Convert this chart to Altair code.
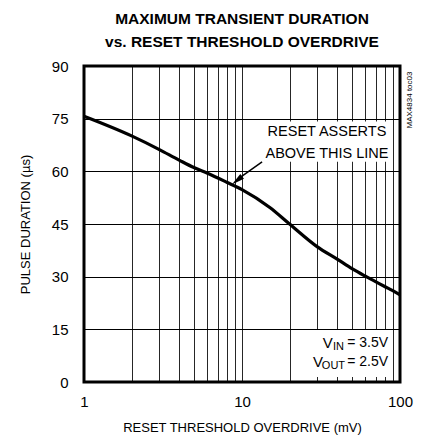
import altair as alt
import pandas as pd

# ---- data ----
overdrive_mv = [1, 2, 3, 4, 5, 6, 8, 10, 15, 20, 30, 40, 50, 60, 70, 80, 90, 100]
pulse_us = [75.7, 70.1, 66.2, 63.2, 61.0, 59.5, 56.9, 54.8, 49.7, 45.0, 38.5, 35.0, 32.2, 30.2, 28.6, 27.2, 26.0, 24.8]

x_grid = [1, 2, 3, 4, 5, 6, 7, 8, 9, 10, 20, 30, 40, 50, 60, 70, 80, 90, 100]
y_ticks = [0, 15, 30, 45, 60, 75, 90]

FONT = "Liberation Sans"

df = pd.DataFrame({"x": overdrive_mv, "y": pulse_us})

xscale = alt.Scale(type="log", domain=[1, 100], nice=False)
yscale = alt.Scale(domain=[0, 90], nice=False)

base = alt.Chart(df)

curve = base.mark_line(color="black", strokeWidth=3.2, interpolate="monotone").encode(
    x=alt.X("x:Q", scale=xscale,
            axis=alt.Axis(values=x_grid, title="RESET THRESHOLD OVERDRIVE (mV)",
                          labelExpr="(datum.value==1||datum.value==10||datum.value==100) ? datum.label : ''",
                          grid=True, gridColor="black", gridWidth=1, gridOpacity=0.85,
                          ticks=False, domain=False, labelPadding=12, titlePadding=12,
                          labelFontSize=15, titleFontSize=13, labelFont=FONT, titleFont=FONT,
                          labelColor="black", titleColor="black", titleFontWeight="normal",
                          labelFlush=False)),
    y=alt.Y("y:Q", scale=yscale,
            axis=alt.Axis(values=y_ticks, title="PULSE DURATION (µs)",
                          grid=True, gridColor="black", gridWidth=1,
                          ticks=False, domain=False, labelPadding=16, titlePadding=19,
                          labelFontSize=15, titleFontSize=13, labelFont=FONT, titleFont=FONT,
                          labelColor="black", titleColor="black", titleFontWeight="normal")),
)

# white box behind "RESET ASSERTS" text
box1 = alt.Chart(pd.DataFrame({"a": [0]})).mark_rect(color="white").encode(
    x=alt.datum(13.8, scale=xscale), x2=alt.datum(89),
    y=alt.datum(62.7, scale=yscale), y2=alt.datum(74.2))
txt1 = alt.Chart(pd.DataFrame({"t": ["RESET ASSERTS", "ABOVE THIS LINE"], "yy": [71.3, 64.9]})).mark_text(
    fontSize=14.5, font=FONT, color="black", align="center", baseline="middle").encode(
    x=alt.datum(34.5, scale=xscale), y=alt.Y("yy:Q", scale=yscale), text="t:N")

# arrow
arrow_line = alt.Chart(pd.DataFrame({"a": [0]})).mark_rule(color="black", strokeWidth=1.5).encode(
    x=alt.datum(13.4, scale=xscale), y=alt.datum(62.7, scale=yscale),
    x2=alt.datum(9.7), y2=alt.datum(58.2))
arrow_head = alt.Chart(pd.DataFrame({"a": [0]})).mark_point(
    shape="M0,-1L0.45,1L-0.45,1Z", filled=True, color="black", opacity=1, size=170, angle=231.6).encode(
    x=alt.datum(9.3, scale=xscale), y=alt.datum(57.4, scale=yscale))

# white box behind V labels
box2 = alt.Chart(pd.DataFrame({"a": [0]})).mark_rect(color="white").encode(
    x=alt.datum(20.9, scale=xscale), x2=alt.datum(87.7),
    y=alt.datum(1.4, scale=yscale), y2=alt.datum(14.8))

vmain = alt.Chart(pd.DataFrame({"t": ["V", "V"], "xx": [37.6, 32.6], "yy": [11.1, 5.7]})).mark_text(
    fontSize=15, font=FONT, color="black", align="right", baseline="middle").encode(
    x=alt.X("xx:Q", scale=xscale), y=alt.Y("yy:Q", scale=yscale), text="t:N")
vsub = alt.Chart(pd.DataFrame({"t": ["IN", "OUT"], "xx": [44.2, 44.9], "yy": [10.0, 4.6]})).mark_text(
    fontSize=11, font=FONT, color="black", align="right", baseline="middle").encode(
    x=alt.X("xx:Q", scale=xscale), y=alt.Y("yy:Q", scale=yscale), text="t:N")
veq = alt.Chart(pd.DataFrame({"t": ["= 3.5V", "= 2.5V"], "yy": [11.1, 5.7]})).mark_text(
    fontSize=14, font=FONT, color="black", align="right", baseline="middle").encode(
    x=alt.datum(84.0, scale=xscale), y=alt.Y("yy:Q", scale=yscale), text="t:N")

tag = alt.Chart(pd.DataFrame({"a": [0]})).mark_text(
    text="MAX4834 toc03", fontSize=8, font=FONT, color="black", angle=270,
    align="center", baseline="middle").encode(x=alt.value(326), y=alt.value(34))

chart = alt.layer(box1, box2, curve, txt1, arrow_line, arrow_head, vmain, vsub, veq, tag).properties(
    width=316, height=316,
    title=alt.TitleParams(["MAXIMUM TRANSIENT DURATION", "vs. RESET THRESHOLD OVERDRIVE"],
                          font=FONT, fontSize=15.5, fontWeight="bold", color="black",
                          anchor="middle", lineHeight=23, offset=9),
    autosize=alt.AutoSizeParams(type="none"),
    padding={"left": 76, "top": 58, "right": 16, "bottom": 55},
).configure_view(stroke="black", strokeWidth=3).configure_axis(gridCap="butt")

chart.save("out.html", embed_options={"renderer": "svg", "actions": False})
